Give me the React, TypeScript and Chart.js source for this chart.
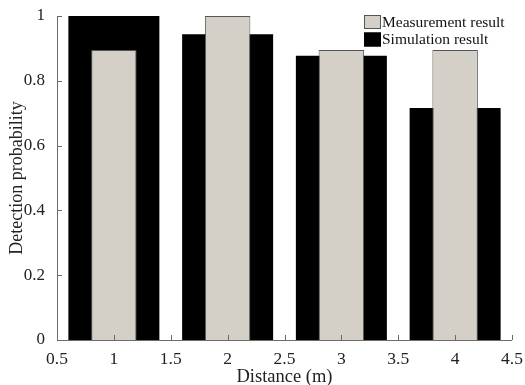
import React, { useEffect, useRef } from "react";
import { Chart, registerables } from "chart.js";

Chart.register(...registerables);

const distances = [1, 2, 3, 4];
const measurement = [0.895, 1.0, 0.895, 0.895];
const simulation = [1.0, 0.944, 0.877, 0.716];
const seriesNames = ["Measurement result", "Simulation result"];
const xTicks = [0.5, 1, 1.5, 2, 2.5, 3, 3.5, 4, 4.5];
const yTicks = [0, 0.2, 0.4, 0.6, 0.8, 1];

const FONT = "'Liberation Serif', 'Times New Roman', serif";
const GRAY = "#d4d0c8";
const AXIS = "#6b6b6b";

const innerTicks = {
  id: "innerTicks",
  afterDraw(chart: any) {
    const ctx = chart.ctx;
    const { left, right, top, bottom } = chart.chartArea;
    const xs = chart.scales.x;
    const ys = chart.scales.y;
    ctx.save();
    ctx.strokeStyle = AXIS;
    ctx.lineWidth = 1;
    ctx.beginPath();
    ctx.moveTo(left + 0.5, top);
    ctx.lineTo(left + 0.5, bottom + 0.5);
    ctx.lineTo(right, bottom + 0.5);
    xTicks.forEach((v) => {
      const px = Math.round(xs.getPixelForValue(v)) + 0.5;
      ctx.moveTo(px, bottom);
      ctx.lineTo(px, bottom - 5);
    });
    yTicks.forEach((v) => {
      const py = Math.round(ys.getPixelForValue(v)) + 0.5;
      ctx.moveTo(left, py);
      ctx.lineTo(left + 5, py);
    });
    ctx.stroke();

    // legend
    const lx = right - 148;
    const ly = top - 1;
    const items = [
      { label: seriesNames[0], fill: GRAY, stroke: "#555" },
      { label: seriesNames[1], fill: "#000", stroke: "#000" },
    ];
    ctx.font = `15.5px ${FONT}`;
    ctx.textBaseline = "middle";
    ctx.textAlign = "left";
    items.forEach((it, i) => {
      const y = ly + i * 17.5;
      ctx.fillStyle = it.fill;
      ctx.fillRect(lx, y, 17, 14);
      ctx.strokeStyle = it.stroke;
      ctx.strokeRect(lx + 0.5, y + 0.5, 16, 13);
      ctx.fillStyle = "#111";
      ctx.fillText(it.label, lx + 18, y + 7.5);
    });
    ctx.restore();
  },
};

const fmt = (v: any) => String(Math.round(Number(v) * 10) / 10);

export default function App() {
  const ref = useRef<HTMLCanvasElement>(null);
  useEffect(() => {
    document.body.style.margin = "0";
    const chart = new Chart(ref.current!, {
      type: "bar",
      data: {
        datasets: [
          {
            label: seriesNames[0],
            data: distances.map((d, i) => ({ x: d, y: measurement[i] })),
            backgroundColor: GRAY,
            borderColor: "#555",
            borderWidth: 1,
            grouped: false,
            barPercentage: 0.8,
            categoryPercentage: 1,
          } as any,
          {
            label: seriesNames[1],
            data: distances.map((d, i) => ({ x: d, y: simulation[i] })),
            backgroundColor: "#000",
            borderWidth: 0,
            grouped: false,
            barPercentage: 1.6,
            categoryPercentage: 1,
          } as any,
        ],
      },
      options: {
        animation: false,
        responsive: false,
        layout: { padding: { left: 0, top: 16, right: 13, bottom: 0 } },
        plugins: { legend: { display: false }, tooltip: { enabled: false } },
        scales: {
          x: {
            type: "linear",
            min: 0.5,
            max: 4.5,
            offset: false,
            border: { display: false },
            grid: { display: false },
            afterBuildTicks: (s: any) => {
              s.ticks = xTicks.map((v) => ({ value: v }));
            },
            ticks: {
              color: "#222",
              font: { family: FONT, size: 17.5 },
              padding: 1,
              maxRotation: 0,
              autoSkip: false,
              callback: fmt,
            },
            title: {
              display: true,
              text: "Distance (m)",
              color: "#222",
              font: { family: FONT, size: 18.5 },
              padding: { top: 0, bottom: -3 },
            },
            afterFit: (s: any) => {
              s.height = 45;
            },
          },
          y: {
            min: 0,
            max: 1,
            border: { display: false },
            grid: { display: false },
            afterBuildTicks: (s: any) => {
              s.ticks = yTicks.map((v) => ({ value: v }));
            },
            ticks: {
              color: "#222",
              font: { family: FONT, size: 17 },
              padding: 4,
              callback: fmt,
            },
            title: {
              display: true,
              text: "Detection probability",
              color: "#222",
              font: { family: FONT, size: 18 },
              padding: { top: 6, bottom: 0 },
            },
            afterFit: (s: any) => {
              s.width = 57;
            },
          },
        },
      },
      plugins: [innerTicks],
    });
    return () => chart.destroy();
  }, []);
  return (
    <div style={{ width: 525, height: 385 }}>
      <canvas ref={ref} width={525} height={385} />
    </div>
  );
}
